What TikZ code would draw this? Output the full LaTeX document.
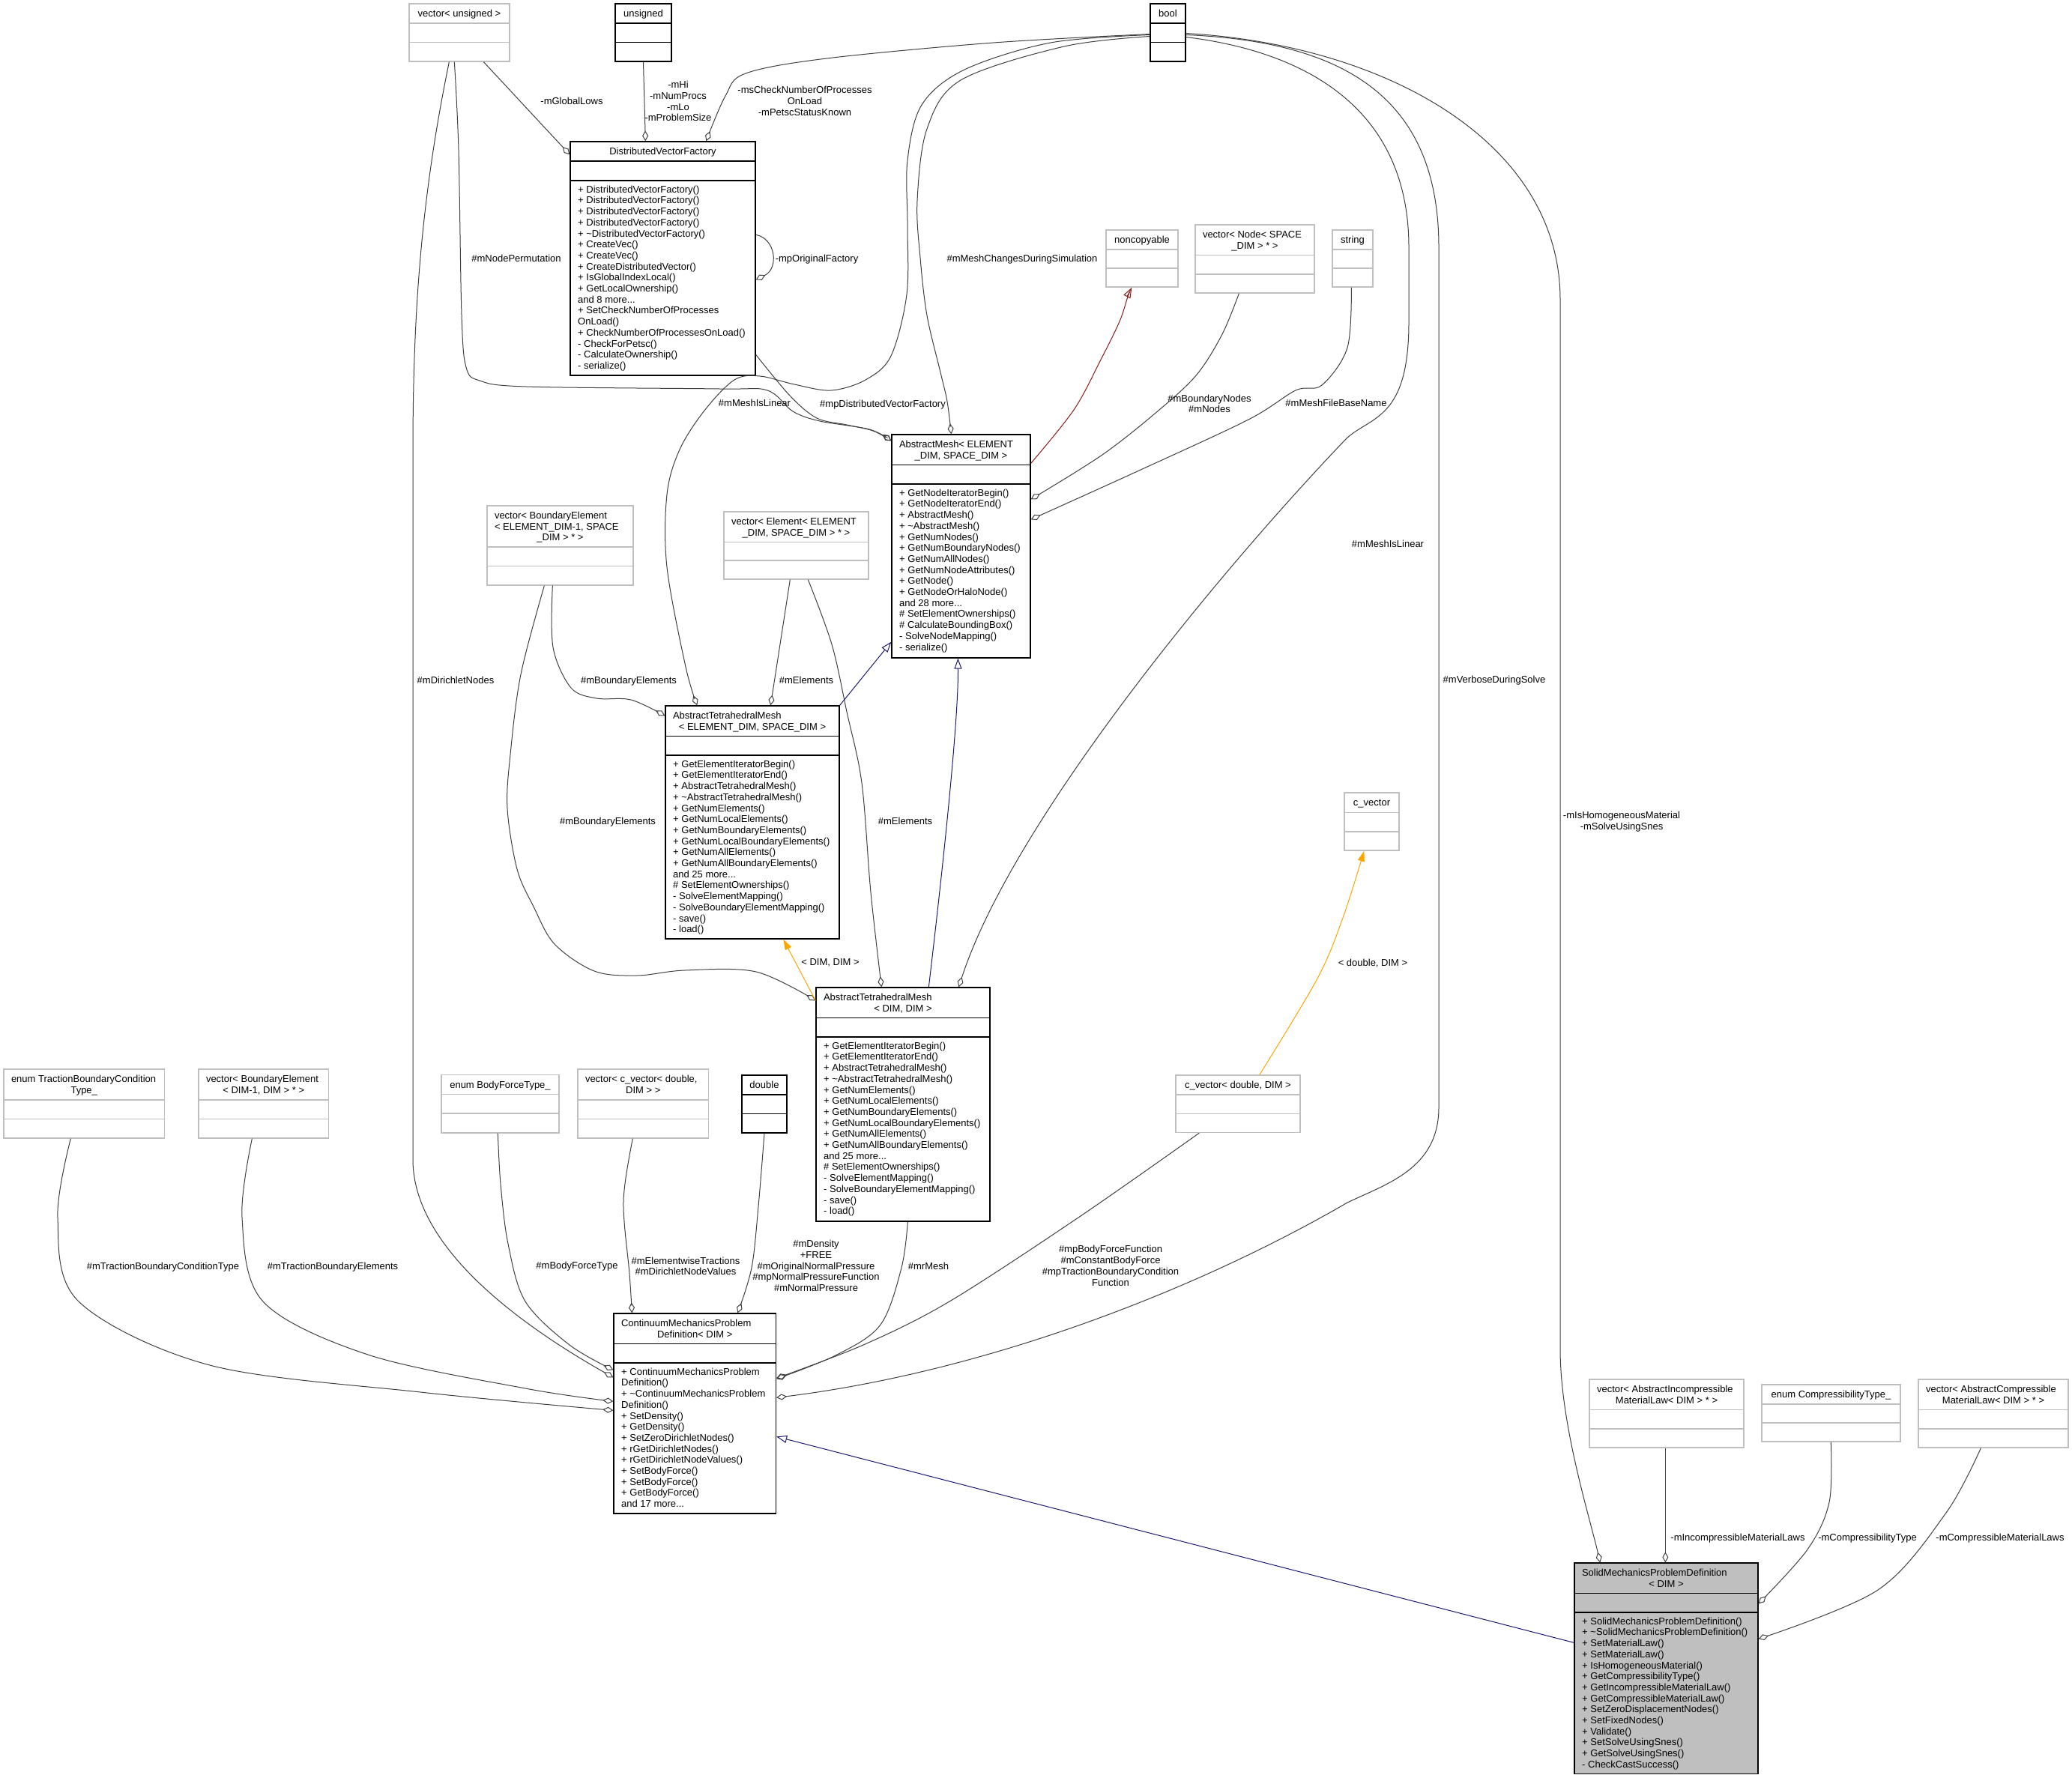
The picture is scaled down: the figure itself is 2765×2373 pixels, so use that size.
\documentclass[tikz,border=0pt]{standalone}
\usepackage{fontspec}
\setmainfont{Liberation Sans}
\usetikzlibrary{arrows.meta,fit}
\definecolor{edgec}{HTML}{404040}
\definecolor{boxgray}{HTML}{BFBFBF}
\definecolor{inhblue}{HTML}{191970}
\definecolor{inhred}{HTML}{8B1A1A}
\definecolor{tmplorange}{HTML}{FFA500}
\newcommand\dfont{\fontsize{13}{14.7}\selectfont}
\newcommand\mystrut{\rule[-3pt]{0pt}{13pt}}
\newcommand\tlft[1]{\hbox to \mytw pt{\mystrut#1\hss}}
\newcommand\tctr[1]{\hbox to \mytw pt{\mystrut\hss#1\hss}}
\newcommand\umlbox[9]{%
  \node[#2, fit={(#3,#4) (#5,#6)}] (#1) {};
  \draw[#2 sep] (#3,#7) -- (#5,#7) (#3,#8) -- (#5,#8);
  \pgfmathsetmacro\mytw{#5-#3-20}%
  \pgfmathsetmacro\mycx{(#3+#5)/2}%
  \pgfmathsetmacro\mycy{(#4+#7)/2+1.2}%
  \node[ttl] (#1-t) at (\mycx,\mycy) {#9};%
}
\tikzset{
  gbox/.style={draw=boxgray, line width=1.3pt, fill=white, inner sep=0pt},
  gbox sep/.style={draw=boxgray, line width=1.3pt},
  kbox/.style={draw=black, line width=1.3pt, fill=white, inner sep=0pt},
  kbox sep/.style={draw=black, line width=1.3pt},
  sbox/.style={draw=black, line width=1.3pt, fill=boxgray, inner sep=0pt},
  sbox sep/.style={draw=black, line width=1.3pt},
  ttl/.style={anchor=center, align=left, inner sep=0pt, font=\dfont},
  mth/.style={anchor=north west, align=left, inner sep=0pt, font=\dfont},
  lbl/.style={anchor=center, align=center, inner sep=0pt, font=\dfont},
  coll/.style={draw=edgec, line width=1pt, -{Diamond[open,length=14pt,width=8pt]}},
  inhb/.style={draw=inhblue, line width=1pt, -{Triangle[open,length=14pt,width=10pt]}},
  inhr/.style={draw=inhred, line width=1pt, -{Triangle[open,length=14pt,width=10pt]}},
  tmpl/.style={draw=tmplorange, line width=1pt, -{Triangle[length=14pt,width=9pt]}},
  sm/.style={smooth, tension=0.55},
}
\begin{document}
\begin{tikzpicture}[x=1pt,y=-1pt]
\fill[white] (0,0) rectangle (2765,2373);
\useasboundingbox (0,0) rectangle (2765,2373);

% ---------------- boxes ----------------
\umlbox{vunsig}{gbox}{546}{5}{680}{82}{31}{56.5}{\tctr{vector< unsigned >}}
\umlbox{unsig}{kbox}{821}{5}{896}{82}{31}{56.5}{\tctr{unsigned}}
\umlbox{bool}{kbox}{1535}{5}{1582}{82}{31}{56.5}{\tctr{bool}}
\umlbox{dvf}{kbox}{761}{189}{1008}{501}{215}{241}{\tctr{DistributedVectorFactory}}
\node[mth] (dvf-m) at (771,247) {\mystrut+ DistributedVectorFactory()\\+ DistributedVectorFactory()\\+ DistributedVectorFactory()\\+ DistributedVectorFactory()\\+ \textasciitilde DistributedVectorFactory()\\+ CreateVec()\\+ CreateVec()\\+ CreateDistributedVector()\\+ IsGlobalIndexLocal()\\+ GetLocalOwnership()\\and 8 more...\\+ SetCheckNumberOfProcesses\\OnLoad()\\+ CheckNumberOfProcessesOnLoad()\\- CheckForPetsc()\\- CalculateOwnership()\\- serialize()};
\umlbox{noncop}{gbox}{1476}{307}{1572}{383}{333}{358}{\tctr{noncopyable}}
\umlbox{vnode}{gbox}{1595}{300}{1754}{391}{340.6}{366}{\tlft{vector< Node< SPACE}\\\tctr{\_DIM > * >}}
\umlbox{string}{gbox}{1778}{307}{1832}{383}{333}{358}{\tctr{string}}
\umlbox{amesh}{kbox}{1190}{580}{1375}{878}{620.6}{646}{\tlft{AbstractMesh< ELEMENT}\\\tctr{\_DIM, SPACE\_DIM >}}
\node[mth] (amesh-m) at (1200,652) {\mystrut+ GetNodeIteratorBegin()\\+ GetNodeIteratorEnd()\\+ AbstractMesh()\\+ \textasciitilde AbstractMesh()\\+ GetNumNodes()\\+ GetNumBoundaryNodes()\\+ GetNumAllNodes()\\+ GetNumNodeAttributes()\\+ GetNode()\\+ GetNodeOrHaloNode()\\and 28 more...\\\# SetElementOwnerships()\\\# CalculateBoundingBox()\\- SolveNodeMapping()\\- serialize()};
\umlbox{vbe}{gbox}{650}{675}{845}{781}{730}{755.5}{\tlft{vector< BoundaryElement}\\\tlft{< ELEMENT\_DIM-1, SPACE}\\\tctr{\_DIM > * >}}
\umlbox{vel}{gbox}{966}{683}{1159}{773}{723.5}{748}{\tlft{vector< Element< ELEMENT}\\\tctr{\_DIM, SPACE\_DIM > * >}}
\umlbox{atmes}{kbox}{888}{942}{1120}{1253}{982.6}{1008}{\tlft{AbstractTetrahedralMesh}\\\tctr{< ELEMENT\_DIM, SPACE\_DIM >}}
\node[mth] (atmes-m) at (898,1014) {\mystrut+ GetElementIteratorBegin()\\+ GetElementIteratorEnd()\\+ AbstractTetrahedralMesh()\\+ \textasciitilde AbstractTetrahedralMesh()\\+ GetNumElements()\\+ GetNumLocalElements()\\+ GetNumBoundaryElements()\\+ GetNumLocalBoundaryElements()\\+ GetNumAllElements()\\+ GetNumAllBoundaryElements()\\and 25 more...\\\# SetElementOwnerships()\\- SolveElementMapping()\\- SolveBoundaryElementMapping()\\- save()\\- load()};
\umlbox{atmdd}{kbox}{1089}{1318}{1321}{1630}{1358.6}{1384}{\tlft{AbstractTetrahedralMesh}\\\tctr{< DIM, DIM >}}
\node[mth] (atmdd-m) at (1099,1390) {\mystrut+ GetElementIteratorBegin()\\+ GetElementIteratorEnd()\\+ AbstractTetrahedralMesh()\\+ \textasciitilde AbstractTetrahedralMesh()\\+ GetNumElements()\\+ GetNumLocalElements()\\+ GetNumBoundaryElements()\\+ GetNumLocalBoundaryElements()\\+ GetNumAllElements()\\+ GetNumAllBoundaryElements()\\and 25 more...\\\# SetElementOwnerships()\\- SolveElementMapping()\\- SolveBoundaryElementMapping()\\- save()\\- load()};
\umlbox{cvec}{gbox}{1794}{1058}{1867}{1135}{1084.5}{1110}{\tctr{c\_vector}}
\umlbox{cvecdd}{gbox}{1569}{1435}{1735}{1511.5}{1461}{1486.5}{\tctr{c\_vector< double, DIM >}}
\umlbox{double}{kbox}{990}{1435}{1050}{1512}{1461}{1486.5}{\tctr{double}}
\umlbox{etbc}{gbox}{5}{1427}{219.5}{1519}{1468}{1493.5}{\tlft{enum TractionBoundaryCondition}\\\tctr{Type\_}}
\umlbox{vbedd}{gbox}{265}{1427}{438.5}{1519}{1468}{1493.5}{\tlft{vector< BoundaryElement}\\\tctr{< DIM-1, DIM > * >}}
\umlbox{ebft}{gbox}{589}{1434.5}{746}{1512}{1460.5}{1486}{\tctr{enum BodyForceType\_}}
\umlbox{vcvec}{gbox}{771}{1427}{945.5}{1519}{1468}{1493.5}{\tlft{vector< c\_vector< double,}\\\tctr{DIM > >}}
\umlbox{cmpd}{kbox}{819}{1753}{1035.5}{2020}{1793.6}{1819}{\tlft{ContinuumMechanicsProblem}\\\tctr{Definition< DIM >}}
\node[mth] (cmpd-m) at (829,1825) {\mystrut+ ContinuumMechanicsProblem\\Definition()\\+ \textasciitilde ContinuumMechanicsProblem\\Definition()\\+ SetDensity()\\+ GetDensity()\\+ SetZeroDirichletNodes()\\+ rGetDirichletNodes()\\+ rGetDirichletNodeValues()\\+ SetBodyForce()\\+ SetBodyForce()\\+ GetBodyForce()\\and 17 more...};
\umlbox{vaimat}{gbox}{2121}{1841}{2327}{1932}{1881.6}{1907}{\tlft{vector< AbstractIncompressible}\\\tctr{MaterialLaw< DIM > * >}}
\umlbox{ecomp}{gbox}{2351}{1848}{2536}{1924}{1874}{1899}{\tctr{enum CompressibilityType\_}}
\umlbox{vacmat}{gbox}{2560}{1841}{2760}{1932}{1881.6}{1907}{\tlft{vector< AbstractCompressible}\\\tctr{MaterialLaw< DIM > * >}}
\umlbox{smpd}{sbox}{2101}{2086}{2346}{2367.5}{2126.6}{2152}{\tlft{SolidMechanicsProblemDefinition}\\\tctr{< DIM >}}
\node[mth] (smpd-m) at (2111,2158) {\mystrut+ SolidMechanicsProblemDefinition()\\+ \textasciitilde SolidMechanicsProblemDefinition()\\+ SetMaterialLaw()\\+ SetMaterialLaw()\\+ IsHomogeneousMaterial()\\+ GetCompressibilityType()\\+ GetIncompressibleMaterialLaw()\\+ GetCompressibleMaterialLaw()\\+ SetZeroDisplacementNodes()\\+ SetFixedNodes()\\+ Validate()\\+ SetSolveUsingSnes()\\+ GetSolveUsingSnes()\\- CheckCastSuccess()};

% ---------------- connectors ----------------
\draw[coll] ([shift={(100,0)}]vunsig.south west) -- ([shift={(0,18)}]dvf.north west);
\draw[coll] (unsig.south) -- ([shift={(101,0)}]dvf.north west);
\draw[coll] plot[sm] coordinates {([shift={(0,2)}]bool.west) (1326,57) (1103,78) (995,98) (968,128) ([shift={(182,0)}]dvf.north west)};
\draw[coll] ([shift={(0,125)}]dvf.north east) .. controls (1035,318) and (1040,358) .. ([shift={(0,185)}]dvf.north east);
\draw[coll] plot[sm] coordinates {([shift={(61,0)}]vunsig.south west) (612,200) (616,420) (622,490) (640,508) (702,516) (960,519) (1024,521) (1058,549) (1094,562) (1160,573) ([shift={(0,9)}]amesh.north west)};
\draw[coll] plot[sm] coordinates {([shift={(0,285)}]dvf.north east) (1054,528) (1090,558) (1130,567) (1165,575) ([shift={(0,9)}]amesh.north west)};
\draw[coll] plot[sm] coordinates {([shift={(0,3)}]bool.west) (1402,57) (1287,93) (1230,140) (1211,214) (1211,300) (1210,393) (1189,475) (1155,507) (1109,521) (1060,513) (1014,502) (980,507) (940,548) (907,600) (890,660) (890,757) (915,890) ([shift={(43,0)}]atmes.north west)};
\draw[coll] plot[sm] coordinates {([shift={(0,5)}]bool.west) (1420,62) (1282,107) (1237,172) (1224,268) (1228,344) (1237,421) (1255,497) (1264,536) ([shift={(80,0)}]amesh.north west)};
\draw[inhr] plot[sm] coordinates {([shift={(0,39)}]amesh.north east) (1433,547) (1469,480) (1494,429) (1505,396) ([shift={(35,0)}]noncop.south west)};
\draw[coll] plot[sm] coordinates {([shift={(59,0)}]vnode.south west) (1631,446) (1597,500) (1547,547) (1471,607) ([shift={(0,87)}]amesh.north east)};
\draw[coll] plot[sm] coordinates {([shift={(26,0)}]string.south west) (1798,464) (1764,514) (1729,521) (1666,560) (1520,628) ([shift={(0,114)}]amesh.north east)};
% bool -> AbstractTetrahedralMesh<DIM,DIM>
\draw[coll] ([shift={(0,6)}]bool.east) .. controls (1750,70) and (1880,150) .. (1880,330) -- (1880,430)
  .. controls (1880,560) and (1830,555) .. (1797,585)
  .. controls (1620,770) and (1350,1100) .. ([shift={(191,0)}]atmdd.north west);
% bool -> CMPD
\draw[coll] ([shift={(0,3)}]bool.east) .. controls (1780,55) and (1920,120) .. (1920,330) -- (1920,1478)
  .. controls (1920,1560) and (1850,1580) .. (1798,1605)
  .. controls (1600,1720) and (1320,1830) .. ([shift={(0,113)}]cmpd.north east);
% bool -> SMPD
\draw[coll] ([shift={(0,1)}]bool.east) .. controls (1850,60) and (2082,190) .. (2082,400) -- (2082,1800)
  .. controls (2082,1900) and (2120,2020) .. ([shift={(35,0)}]smpd.north west);
\draw[coll] plot[sm] coordinates {([shift={(88,0)}]vbe.south west) (738,864) (762,918) (796,932) (842,934) ([shift={(0,14)}]atmes.north west)};
\draw[coll] plot[sm] coordinates {([shift={(77,0)}]vbe.south west) (695,900) (681,1007) (677,1079) (690,1160) (712,1210) (740,1260) (793,1296) (850,1302) (914,1295) (1009,1297) ([shift={(0,18)}]atmdd.north west)};
\draw[coll] ([shift={(89,0)}]vel.south west) -- ([shift={(141,0)}]atmes.north west);
\draw[coll] plot[sm] coordinates {([shift={(113,0)}]vel.south west) (1110,860) (1130,950) (1150,1045) (1162,1191) ([shift={(88,0)}]atmdd.north west)};
\draw[inhb] (atmes.north east) -- ([shift={(0,-22)}]amesh.south west);
\draw[inhb] ([shift={(151,0)}]atmdd.north west) .. controls (1265,1100) and (1279,950) .. ([shift={(89,0)}]amesh.south west);
\draw[tmpl] ([shift={(0,18)}]atmdd.north west) -- ([shift={(158,0)}]atmes.south west);
\draw[tmpl] plot[sm] coordinates {([shift={(112.5,0)}]cvecdd.north west) (1758,1306) (1792,1225) ([shift={(27,0)}]cvec.south west)};
\draw[coll] plot[sm] coordinates {(double.south) (1012,1610) (1003,1692) ([shift={(166,0)}]cmpd.north west)};
\draw[coll] plot[sm] coordinates {([shift={(74,0)}]vcvec.south west) (832,1603) (840,1700) ([shift={(25,0)}]cmpd.north west)};
\draw[coll] plot[sm] coordinates {([shift={(76,0)}]ebft.south west) (668,1580) (678,1660) (701,1737) (760,1795) ([shift={(0,76)}]cmpd.north west)};
% vector<unsigned> -> CMPD
\draw[coll] ([shift={(54,0)}]vunsig.south west) .. controls (565,250) and (551,400) .. (551,600) -- (551,1550)
  .. controls (553,1660) and (680,1760) .. ([shift={(0,86)}]cmpd.north west);
\draw[coll] plot[sm] coordinates {([shift={(90,0)}]etbc.south west) (77,1625) (105,1737) (280,1822) (561,1858) ([shift={(0,130)}]cmpd.north west)};
\draw[coll] plot[sm] coordinates {([shift={(72,0)}]vbedd.south west) (323,1625) (351,1737) (491,1808) (701,1853) ([shift={(0,118)}]cmpd.north west)};
\draw[coll] plot[sm] coordinates {([shift={(123,0)}]atmdd.south west) (1203,1692) (1175,1768) (1117,1808) ([shift={(0,88)}]cmpd.north east)};
\draw[coll] plot[sm] coordinates {([shift={(32,0)}]cvecdd.south west) (1439,1625) (1267,1737) (1152,1795) ([shift={(0,87)}]cmpd.north east)};
\draw[inhb] ([shift={(0,107)}]smpd.north west) -- ([shift={(0,165)}]cmpd.north east);
\draw[coll] ([shift={(102,0)}]vaimat.south west) -- ([shift={(122,0)}]smpd.north west);
\draw[coll] plot[sm] coordinates {([shift={(93,0)}]ecomp.south west) (2441,2005) (2412,2068) ([shift={(0,55)}]smpd.north east)};
\draw[coll] plot[sm] coordinates {([shift={(84,0)}]vacmat.south west) (2597,2019) (2506,2122) ([shift={(0,102)}]smpd.north east)};

% ---------------- labels ----------------
\node[lbl] (l1) at (763,136) {\mystrut-mGlobalLows};
\node[lbl] (l2) at (905,136.2) {\mystrut-mHi\\\mystrut-mNumProcs\\\mystrut-mLo\\\mystrut-mProblemSize};
\node[lbl] (l3) at (1074,136) {\mystrut-msCheckNumberOfProcesses\\\mystrut OnLoad\\\mystrut-mPetscStatusKnown};
\node[lbl] (l4) at (1090,345.7) {\mystrut-mpOriginalFactory};
\node[lbl] (l5) at (689,346) {\mystrut\#mNodePermutation};
\node[lbl] (l6) at (1364,345.7) {\mystrut\#mMeshChangesDuringSimulation};
\node[lbl] (l7) at (1007,539) {\mystrut\#mMeshIsLinear};
\node[lbl] (l8) at (1178,539.7) {\mystrut\#mpDistributedVectorFactory};
\node[lbl] (l9) at (1614,540) {\mystrut\#mBoundaryNodes\\\mystrut\#mNodes};
\node[lbl] (l10) at (1783,539) {\mystrut\#mMeshFileBaseName};
\node[lbl] (l11) at (1852,727) {\mystrut\#mMeshIsLinear};
\node[lbl] (l12) at (1994,908) {\mystrut\#mVerboseDuringSolve};
\node[lbl] (l13) at (608,909) {\mystrut\#mDirichletNodes};
\node[lbl] (l14) at (839,909) {\mystrut\#mBoundaryElements};
\node[lbl] (l15) at (1076,909) {\mystrut\#mElements};
\node[lbl] (l16) at (811,1097) {\mystrut\#mBoundaryElements};
\node[lbl] (l17) at (1208,1097) {\mystrut\#mElements};
\node[lbl] (l18) at (1108,1285) {\mystrut< DIM, DIM >};
\node[lbl] (l19) at (1832,1286) {\mystrut< double, DIM >};
\node[lbl] (l20) at (2164,1096.7) {\mystrut-mIsHomogeneousMaterial\\\mystrut-mSolveUsingSnes};
\node[lbl] (l21) at (217.5,1690.6) {\mystrut\#mTractionBoundaryConditionType};
\node[lbl] (l22) at (444,1690.6) {\mystrut\#mTractionBoundaryElements};
\node[lbl] (l23) at (770,1690) {\mystrut\#mBodyForceType};
\node[lbl] (l24) at (915,1691) {\mystrut\#mElementwiseTractions\\\mystrut\#mDirichletNodeValues};
\node[lbl] (l25) at (1089,1690.6) {\mystrut\#mDensity\\\mystrut+FREE\\\mystrut\#mOriginalNormalPressure\\\mystrut\#mpNormalPressureFunction\\\mystrut\#mNormalPressure};
\node[lbl] (l26) at (1239,1690.6) {\mystrut\#mrMesh};
\node[lbl] (l27) at (1482,1690.5) {\mystrut\#mpBodyForceFunction\\\mystrut\#mConstantBodyForce\\\mystrut\#mpTractionBoundaryCondition\\\mystrut Function};
\node[lbl] (l28) at (2319,2053) {\mystrut-mIncompressibleMaterialLaws};
\node[lbl] (l29) at (2492,2053) {\mystrut-mCompressibilityType};
\node[lbl] (l30) at (2669,2053) {\mystrut-mCompressibleMaterialLaws};
\end{tikzpicture}
\end{document}
